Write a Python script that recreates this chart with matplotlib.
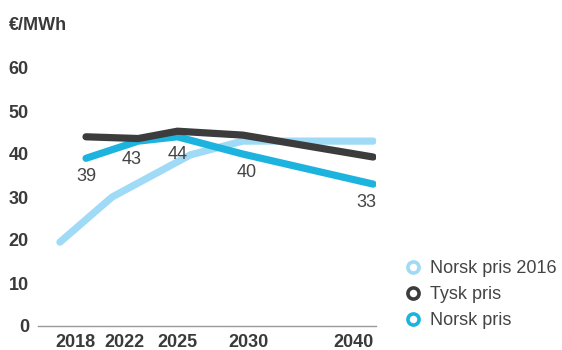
import matplotlib
matplotlib.use("Agg")
import matplotlib.pyplot as plt
from matplotlib.lines import Line2D
from matplotlib.transforms import ScaledTranslation

plt.rcParams['font.family'] = ['Liberation Sans', 'DejaVu Sans']

# ---- data ----
years_2016 = [2016, 2020, 2026, 2030, 2040]
norsk_2016 = [19.5, 30, 39.8, 43, 43]

years = [2018, 2022, 2025, 2030, 2040]
tysk = [44, 43.6, 45.3, 44.4, 39.3]
norsk = [39, 43, 44, 40, 33]

tick_years = [2018, 2022, 2025, 2030, 2040]
tick_shift_px = [-11, -14, 0, 6, -20]
y_ticks = [0, 10, 20, 30, 40, 50, 60]

c_pale = "#9fdbf6"
c_dark = "#3c3c3c"
c_blue = "#1db3df"
txt = "#3a3a3a"

fig = plt.figure(figsize=(5.62, 3.5), dpi=100)
ax = fig.add_axes([38 / 562, 1 - 326 / 350, 338 / 562, 258 / 350])

lw = 5.2
ax.plot(years_2016, norsk_2016, color=c_pale, lw=lw, solid_capstyle="round", solid_joinstyle="round", zorder=2)
ax.plot(years, tysk, color=c_dark, lw=lw, solid_capstyle="round", solid_joinstyle="round", zorder=3)
ax.plot(years, norsk, color=c_blue, lw=lw, solid_capstyle="round", solid_joinstyle="round", zorder=2.5)

# value labels under the Norsk pris line
label_dx = [0, -5, 0, 3, -5]
for x, v, dx in zip(years, norsk, label_dx):
    ax.annotate(f"{v:.0f}", (x, v), xytext=(dx, -13), textcoords="offset points",
                ha="center", va="center", fontsize=13, color="#444444")

ax.set_xlim(2014.32, 2040.22)
ax.set_ylim(0, 60)

for s in ["top", "right", "left"]:
    ax.spines[s].set_visible(False)
ax.spines["bottom"].set_color("#9a9a9a")
ax.spines["bottom"].set_linewidth(1.0)

ax.set_yticks(y_ticks)
ax.set_yticklabels([str(t) for t in y_ticks], fontsize=13, fontweight="bold", color=txt)
ax.set_xticks(tick_years)
ax.set_xticklabels([str(t) for t in tick_years], fontsize=13, fontweight="bold", color=txt)
ax.tick_params(axis="y", length=0, pad=6.5)
ax.tick_params(axis="x", length=0, pad=6)
for lab, dx in zip(ax.get_xticklabels(), tick_shift_px):
    lab.set_transform(lab.get_transform() + ScaledTranslation(dx / 100, 0, fig.dpi_scale_trans))

fig.text(9 / 562, 1 - 26 / 350, "€/MWh", fontsize=13, fontweight="bold", color=txt, va="center", ha="left")

# legend with ring markers
handles = [
    Line2D([], [], ls="none", marker="o", ms=8, mfc="white", mec=c_pale, mew=2.6),
    Line2D([], [], ls="none", marker="o", ms=8, mfc="white", mec=c_dark, mew=2.6),
    Line2D([], [], ls="none", marker="o", ms=8, mfc="white", mec=c_blue, mew=2.6),
]
fig.legend(handles, ["Norsk pris 2016", "Tysk pris", "Norsk pris"],
           loc="upper left", bbox_to_anchor=(406 / 562, 1 - 260 / 350),
           frameon=False, fontsize=13, labelcolor="#444444",
           handlelength=0.8, handletextpad=0.52, labelspacing=0.5,
           borderpad=0, borderaxespad=0)

fig.savefig("out.png", dpi=100)
